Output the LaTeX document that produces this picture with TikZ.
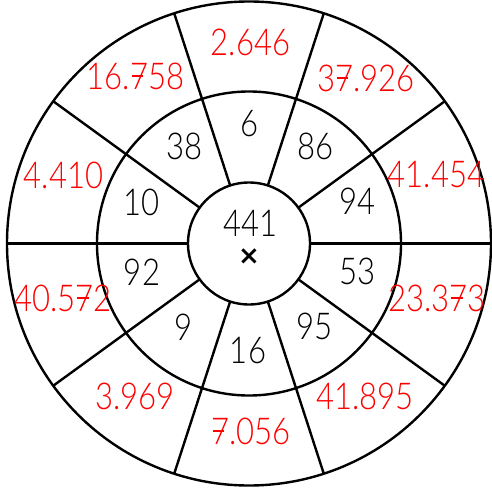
\documentclass[tikz,border=0pt]{standalone}
\usepackage{fontspec}
\setmainfont{Lato Light}[FakeStretch=0.84]
\newfontfamily\symfont{DejaVu Sans}[FakeStretch=1]
\newcommand\sv{\makebox[0pt][l]{\hspace{0.05em}\rule[0.34em]{0.3em}{0.045em}}7}
\begin{document}
\begin{tikzpicture}[x=1pt,y=-1pt,
  ring/.style={line width=2.4pt,black},
  spoke/.style={line width=2.4pt,black},
  axis/.style={line width=3.6pt,black},
  num/.style={font=\fontsize{37}{40}\selectfont,inner sep=0pt,anchor=center,text=black},
  rnum/.style={num,text=red}]
\useasboundingbox (0,0) rectangle (492,492);
\coordinate (C) at (249,243.5);
\begin{scope}[shift={(C)}]
  \draw[ring] (0,0) circle[radius=61];
  \draw[ring] (0,0) circle[radius=152];
  \draw[ring] (0,0) circle[radius=242];
  \foreach \a in {36,72,108,144,216,252,288,324}
    \draw[spoke] (\a:61) -- (\a:242);
  \draw[axis] (0:61) -- (0:242);
  \draw[axis] (180:61) -- (180:242);
\end{scope}
% centre
\node[num] (n441) at (250.5,223) {441};
\node[inner sep=0pt,font=\symfont\bfseries\fontsize{26}{26}\selectfont] (times) at (249,257) {×};
% middle ring
\node[num] (m6) at (250,124) {6};
\node[num] (m86) at (315.3,146) {86};
\node[num] (m94) at (357.3,201.5) {94};
\node[num] (m53) at (357.5,271.5) {53};
\node[num] (m95) at (314.3,326.5) {95};
\node[num] (m16) at (248,350.5) {16};
\node[num] (m9) at (183.5,327.5) {9};
\node[num] (m92) at (142,272) {92};
\node[num] (m10) at (141.5,202.5) {10};
\node[num] (m38) at (184.5,146) {38};
% outer ring
\node[rnum] (o1) at (250.5,42) {2.646};
\node[rnum] (o2) at (366,78) {3\sv.926};
\node[rnum] (o3) at (436.5,175) {41.454};
\node[rnum] (o4) at (437,298.5) {23.3\sv3};
\node[rnum] (o5) at (365,396.5) {41.895};
\node[rnum] (o6) at (251,431.5) {\sv.056};
\node[rnum] (o7) at (135,396.5) {3.969};
\node[rnum] (o8) at (63,298.5) {40.5\sv2};
\node[rnum] (o9) at (63.5,175) {4.410};
\node[rnum] (o10) at (135.5,76.5) {16.\sv58};
\end{tikzpicture}
\end{document}
